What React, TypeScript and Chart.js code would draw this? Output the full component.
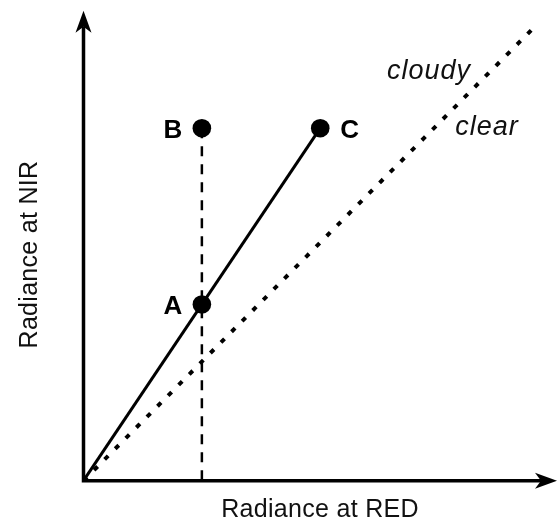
import React, { useEffect, useRef } from 'react';
import { Chart, registerables } from 'chart.js';

Chart.register(...registerables);

// ---- data ----
const pointLabels = ['A', 'B', 'C'];
const pointX = [25, 25, 50];
const pointY = [37.5, 75, 75];

const trajectoryX = [0, 50];
const trajectoryY = [0, 75];

const thresholdX = [0, 95.7];
const thresholdY = [0, 97];

const dropX = [25, 25];
const dropY = [75, 0];

const regionLabels = ['cloudy', 'clear'];
const regionLabelX = [64.1, 78.5];
const regionLabelY = [85.5, 73.6];

const xTitle = 'Radiance at RED';
const yTitle = 'Radiance at NIR';

const FONT = '"Liberation Sans", Arial, Helvetica, sans-serif';

function toXY(xs: number[], ys: number[]) {
  return xs.map((x, i) => ({ x, y: ys[i] }));
}

function arrowHead(ctx: CanvasRenderingContext2D, tx: number, ty: number, dir: 'up' | 'right') {
  const len = 22, half = 8, notch = 16;
  ctx.beginPath();
  if (dir === 'up') {
    ctx.moveTo(tx, ty);
    ctx.lineTo(tx + half, ty + len);
    ctx.lineTo(tx, ty + notch);
    ctx.lineTo(tx - half, ty + len);
  } else {
    ctx.moveTo(tx, ty);
    ctx.lineTo(tx - len, ty + half);
    ctx.lineTo(tx - notch, ty);
    ctx.lineTo(tx - len, ty - half);
  }
  ctx.closePath();
  ctx.fill();
}

const overlay = {
  id: 'overlay',
  afterDatasetsDraw(chart: any) {
    const { ctx, chartArea, scales } = chart;
    const xs = scales.x, ys = scales.y;
    const ox = xs.getPixelForValue(0);
    const oy = ys.getPixelForValue(0);
    ctx.save();
    ctx.fillStyle = '#000';
    ctx.strokeStyle = '#000';
    // axes
    ctx.lineWidth = 3.5;
    ctx.lineJoin = 'miter';
    ctx.setLineDash([]);
    ctx.beginPath();
    ctx.moveTo(ox, chartArea.top + 16);
    ctx.lineTo(ox, oy);
    ctx.lineTo(chartArea.right - 16, oy);
    ctx.stroke();
    arrowHead(ctx, ox, chartArea.top, 'up');
    arrowHead(ctx, chartArea.right, oy, 'right');

    // point labels
    ctx.font = 'bold 26px ' + FONT;
    ctx.textBaseline = 'alphabetic';
    pointLabels.forEach((lab, i) => {
      const px = xs.getPixelForValue(pointX[i]);
      const py = ys.getPixelForValue(pointY[i]);
      const right = i === 2;
      ctx.textAlign = right ? 'left' : 'right';
      ctx.fillText(lab, right ? px + 20 : px - 19.5, py + 9.5);
    });

    // region labels
    ctx.font = 'italic 27px ' + FONT;
    ctx.fillStyle = '#111';
    (ctx as any).letterSpacing = '1px';
    ctx.textAlign = 'left';
    regionLabels.forEach((lab, i) => {
      ctx.fillText(lab, xs.getPixelForValue(regionLabelX[i]), ys.getPixelForValue(regionLabelY[i]));
    });

    // axis titles
    (ctx as any).letterSpacing = '0.3px';
    ctx.font = '25px ' + FONT;
    ctx.textAlign = 'center';
    ctx.fillText(xTitle, 320, 517);
    ctx.translate(37, 254.5);
    ctx.rotate(-Math.PI / 2);
    ctx.fillText(yTitle, 0, 0);
    ctx.restore();
  },
};

export default function App() {
  const ref = useRef<HTMLCanvasElement>(null);
  useEffect(() => {
    if (!ref.current) return;
    const chart = new Chart(ref.current, {
      type: 'scatter',
      data: {
        datasets: [
          {
            label: 'points',
            data: toXY(pointX, pointY),
            pointRadius: 9.3,
            pointBackgroundColor: '#000',
            pointBorderWidth: 0,
            showLine: false,
          },
          {
            label: 'trajectory',
            data: toXY(trajectoryX, trajectoryY),
            showLine: true,
            borderColor: '#000',
            borderWidth: 3,
            pointRadius: 0,
          },
          {
            label: 'drop',
            data: toXY(dropX, dropY),
            showLine: true,
            borderColor: '#000',
            borderWidth: 2.5,
            borderDash: [10, 8],
            pointRadius: 0,
          },
          {
            label: 'threshold',
            data: toXY(thresholdX, thresholdY),
            showLine: true,
            borderColor: '#000',
            borderWidth: 4,
            borderDash: [5, 10],
            pointRadius: 0,
          },
        ],
      },
      options: {
        responsive: false,
        animation: false,
        devicePixelRatio: 1,
        clip: false as any,
        layout: { autoPadding: false, padding: { left: 83.5, right: 0, top: 10.7, bottom: 40.3 } },
        scales: {
          x: { type: 'linear', min: 0, max: 100, display: false },
          y: { type: 'linear', min: 0, max: 100, display: false },
        },
        plugins: {
          legend: { display: false },
          tooltip: { enabled: false },
        },
      },
      plugins: [overlay],
    });
    return () => chart.destroy();
  }, []);
  return (
    <div style={{ position: 'absolute', left: 0, top: 0, width: 557, height: 521, background: '#fff' }}>
      <canvas ref={ref} width={557} height={521} style={{ display: 'block' }} />
    </div>
  );
}
